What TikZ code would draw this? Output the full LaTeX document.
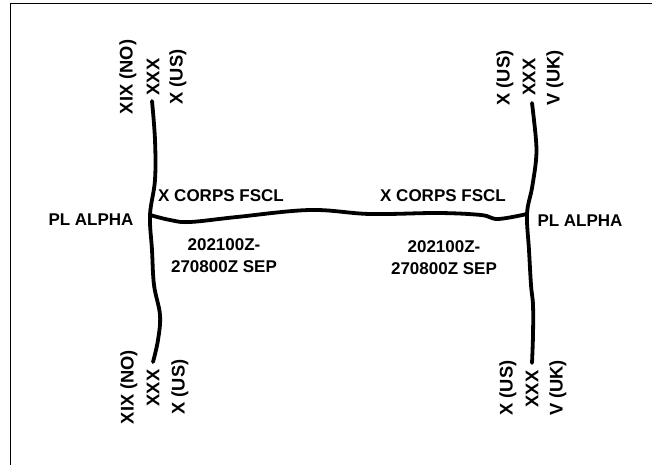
\documentclass[tikz,border=0pt]{standalone}
\usepackage{fontspec}
\setmainfont{Liberation Sans}

\begin{document}
\begin{tikzpicture}[x=1pt, y=-1pt, font=\bfseries\fontsize{17}{22}\selectfont,
  phase/.style={line width=3.8pt, line cap=round, line join=round},
  unit/.style={rotate=90, inner sep=0pt, font=\bfseries\fontsize{18.3}{22}\selectfont},
  lbl/.style={inner sep=0pt, align=center}]

  \useasboundingbox (0,0) rectangle (652,465);
  % --- frame (top and left edges only) ---
  \draw[line width=1.6pt] (10.5,465) -- (10.5,3.5) -- (652,3.5);

  % --- line ends and junctions ---
  \coordinate (wtop) at (152,101);
  \coordinate (wj) at (150,215);
  \coordinate (wbot) at (153,362);
  \coordinate (etop) at (532,103);
  \coordinate (ej) at (527,214);
  \coordinate (ebot) at (532,363);

  % --- phase lines ---
  \draw[phase] plot[smooth, tension=0.6] coordinates {(wtop) (155,140) (155,180) (wj) (152,250) (154,285) (160,315) (158,340) (wbot)};
  \draw[phase] plot[smooth, tension=0.6] coordinates {(etop) (536,140) (536,160) (532,188) (ej) (529,250) (531,285) (533,305) (533,335) (ebot)};
  \draw[phase] plot[smooth, tension=0.6] coordinates {(wj) (170,220) (190,222) (237,217) (310,210) (370,214) (438,213) (481,215) (498,219) (ej)};

  % --- boundary unit labels, top ---
  \node[unit] (nwA) at (128,77) {XIX (NO)};
  \node[unit] (nwB) at (153,77) {XXX};
  \node[unit] (nwC) at (178,77) {X (US)};
  \node[unit] (neA) at (505,78) {X (US)};
  \node[unit] (neB) at (529,77) {XXX};
  \node[unit] (neC) at (555,78) {V (UK)};

  % --- boundary unit labels, bottom ---
  \node[unit] (swA) at (129,387) {XIX (NO)};
  \node[unit] (swB) at (153,388) {XXX};
  \node[unit] (swC) at (180,387) {X (US)};
  \node[unit] (seA) at (508,388) {X (US)};
  \node[unit] (seB) at (532,389) {XXX};
  \node[unit] (seC) at (558,388) {V (UK)};

  % --- phase line and FSCL labels ---
  \node[lbl] (plw) at (91,220) {PL ALPHA};
  \node[lbl] (ple) at (580,220.5) {PL ALPHA};
  \node[lbl] (fsclw) at (221,196) {X CORPS FSCL};
  \node[lbl] (fscle) at (443,196) {X CORPS FSCL};
  \node[lbl] (dtgw) at (224,256) {202100Z-\\270800Z SEP};
  \node[lbl] (dtge) at (444,258) {202100Z-\\270800Z SEP};
\end{tikzpicture}
\end{document}
